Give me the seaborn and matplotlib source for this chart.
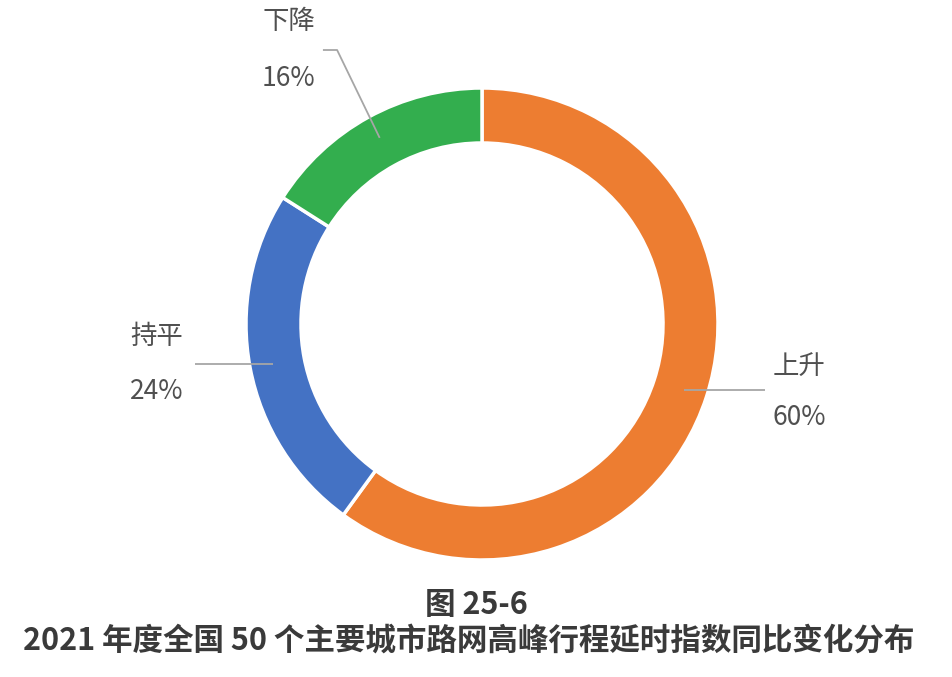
import matplotlib

matplotlib.use("Agg")
import matplotlib.pyplot as plt
import numpy as np
import seaborn as sns

# data
categories = ["上升", "持平", "下降"]
shares = [60, 24, 16]
colors = ["#ED7D31", "#4472C4", "#33AE4E"]

title_no = "图 25-6"
title_text = "2021 年度全国 50 个主要城市路网高峰行程延时指数同比变化分布"

sns.set_theme(style="white")
plt.rcParams["font.family"] = ["Noto Sans CJK SC", "DejaVu Sans"]

W, H = 952, 677
fig = plt.figure(figsize=(W / 100, H / 100), dpi=100)
cx, cy, r = 482, 324, 236
ax = fig.add_axes([(cx - r) / W, 1 - (cy + r) / H, 2 * r / W, 2 * r / H])

wedges, _ = ax.pie(
    shares,
    colors=sns.color_palette(colors),
    startangle=90,
    counterclock=False,
    radius=1,
    wedgeprops=dict(width=0.233, edgecolor="white", linewidth=2.5),
)
ax.set_xlim(-1, 1)
ax.set_ylim(-1, 1)
ax.set_aspect("auto")
ax.axis("off")

line_kw = dict(color="#A6A6A6", lw=1.3, solid_capstyle="butt", clip_on=False)
text_kw = dict(color="#505050", fontsize=19, va="center", clip_on=False)

# label layout: (x of line end, extra elbow point or None, text x, text ha, name y, pct y)
layouts = {
    "上升": (1.199, None, 1.233, "left", -0.178, -0.398),
    "持平": (-1.216, None, -1.267, "right", -0.055, -0.288),
    "下降": (-0.674, (-0.614, 1.161), -0.708, "right", 1.28, 1.042),
}

for w, name, val in zip(wedges, categories, shares):
    mid = np.deg2rad((w.theta1 + w.theta2) / 2)
    x0, y0 = 0.9 * np.cos(mid), 0.9 * np.sin(mid)
    xe, elbow, tx, ha, ny, py = layouts[name]
    if elbow is None:
        ax.plot([x0, xe], [y0, y0], **line_kw)
    else:
        ax.plot([x0, elbow[0], xe], [y0, elbow[1], elbow[1]], **line_kw)
    ax.text(tx, ny, name, ha=ha, **text_kw)
    ax.text(tx, py, f"{val}%", ha=ha, **text_kw)

fig.text(476 / W, 1 - 605 / H, title_no, ha="center", va="center",
         fontsize=22, fontweight="bold", color="#3A3A3A")
fig.text(469 / W, 1 - 641 / H, title_text, ha="center", va="center",
         fontsize=22, fontweight="bold", color="#3A3A3A")

fig.savefig("out.png", dpi=100, facecolor="white")
